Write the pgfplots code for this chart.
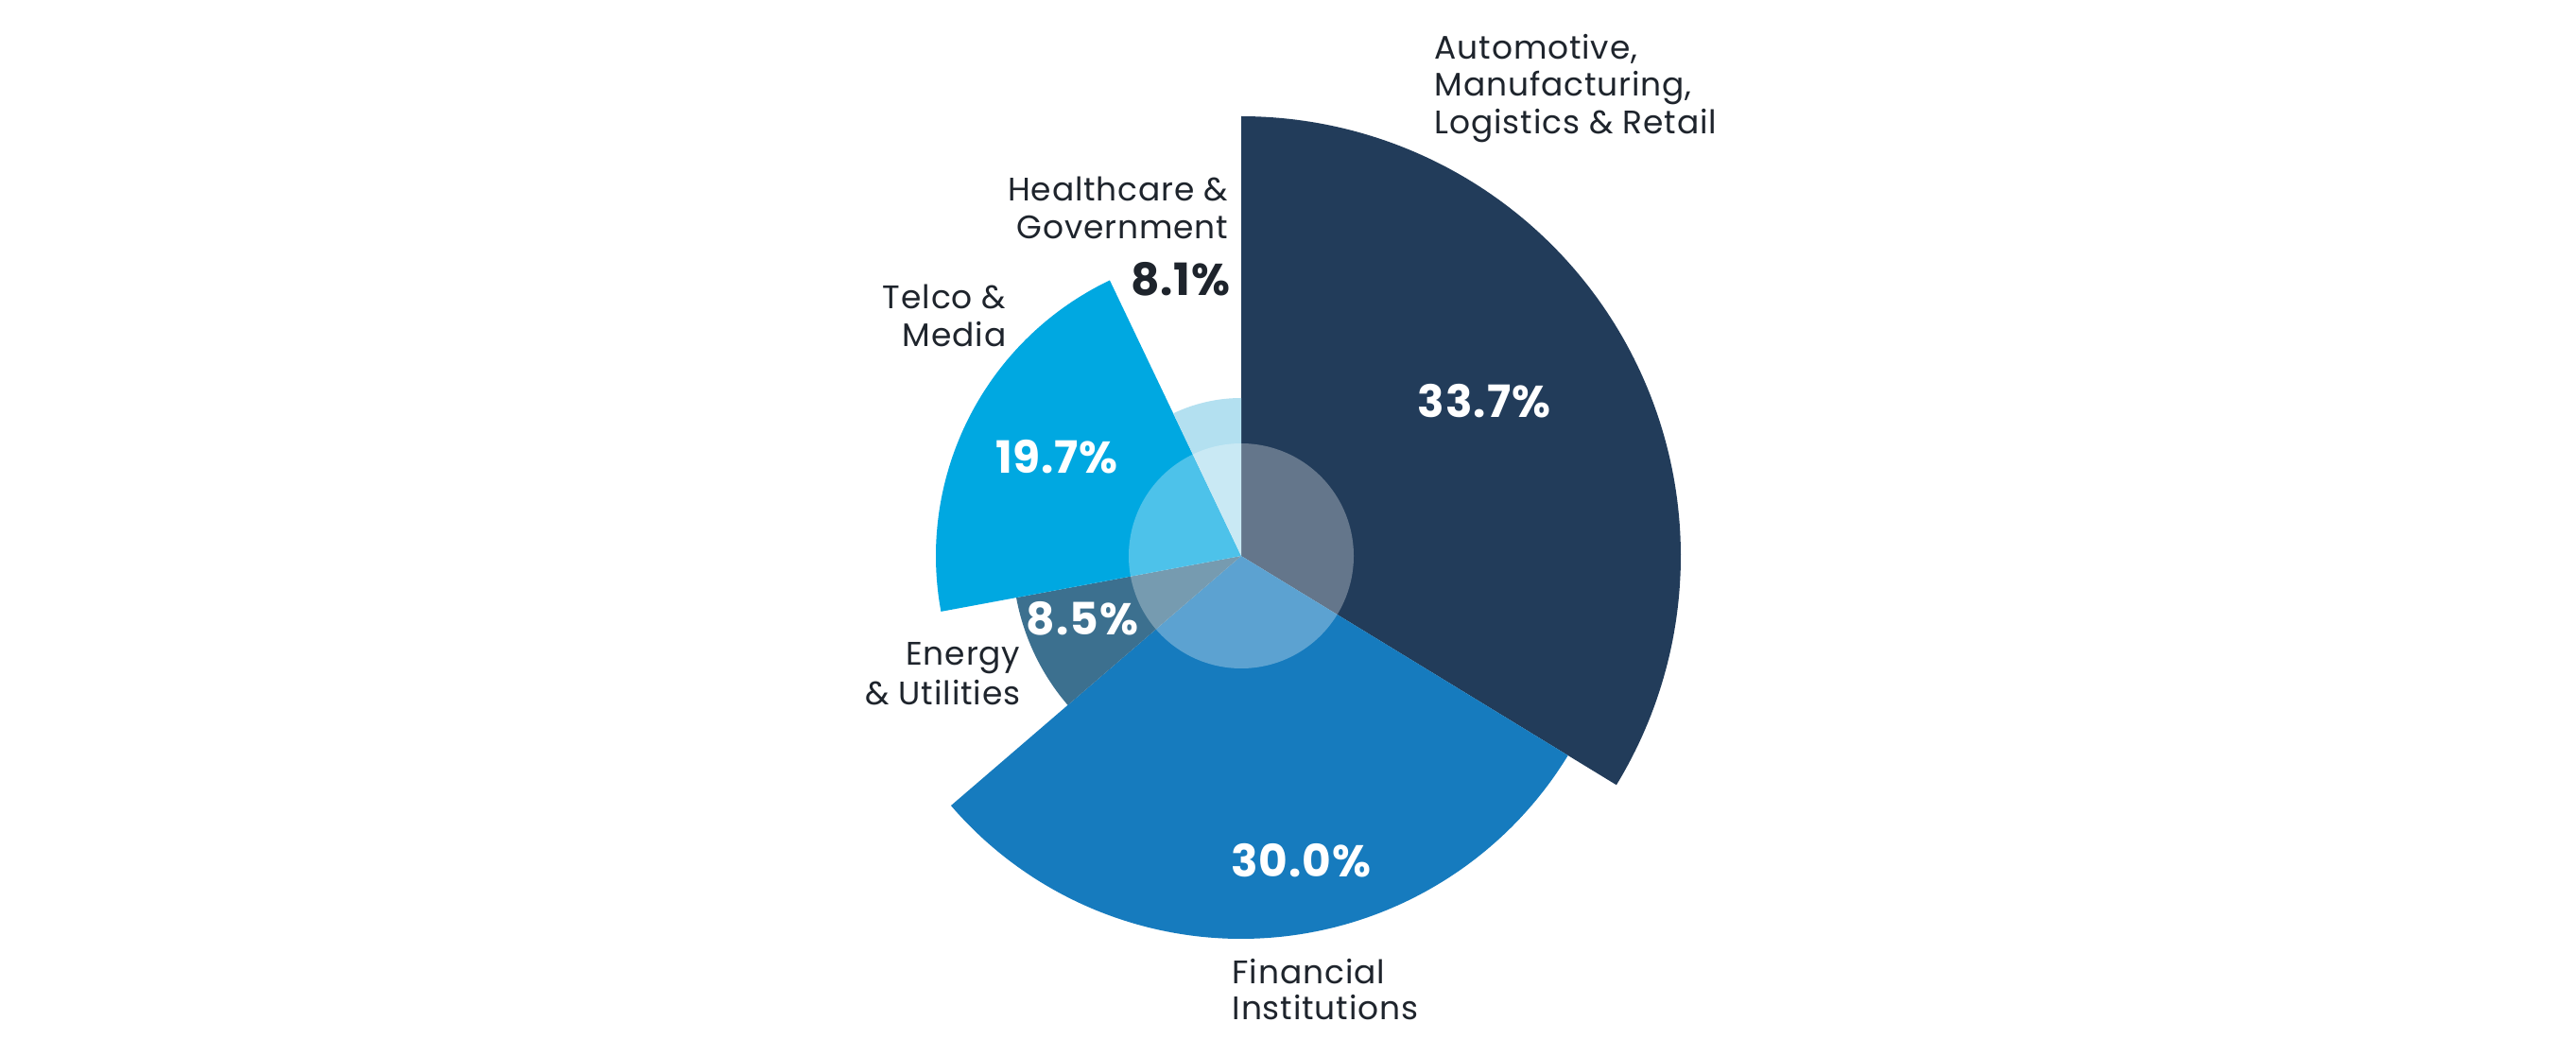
\documentclass[border=0pt]{standalone}
\usepackage{fontspec}
\setmainfont{Poppins}
\usepackage{pgfplots}
\pgfplotsset{compat=1.18}
\usepgfplotslibrary{polar}
\definecolor{cAuto}{HTML}{223C5A}
\definecolor{cFin}{HTML}{167BBE}
\definecolor{cEne}{HTML}{3C708F}
\definecolor{cTel}{HTML}{00A8E1}
\definecolor{cHea}{HTML}{B3E0F0}
\definecolor{cTxt}{HTML}{1E242C}
\newcommand{\lab}{\fontsize{9.8pt}{11pt}\selectfont\addfontfeature{LetterSpace=2.5}}
\newcommand{\pct}{\fontsize{13.4pt}{15pt}\selectfont\bfseries\addfontfeature{LetterSpace=2}}
\begin{document}
\begin{tikzpicture}
\useasboundingbox[fill=white] (0,0) rectangle (272.5mm,-111.8mm);
\begin{polaraxis}[
  at={(131.3mm,-58.8mm)}, anchor=center,
  scale only axis, width=100mm, height=100mm,
  ymin=0, ymax=500, xmin=0, xmax=360,
  hide axis, clip=false
]
% sector: start angle, end angle (deg, clockwise from top = 90), radius
\addplot[fill=cAuto, draw=none, domain=90:-31.4, samples=120] {465} -- (axis cs:0,0) -- cycle;
\addplot[fill=cFin, draw=none, domain=-31.4:-139.3, samples=120] {405} -- (axis cs:0,0) -- cycle;
\addplot[fill=cEne, draw=none, domain=-139.3:-169.5, samples=60] {242} -- (axis cs:0,0) -- cycle;
\addplot[fill=cTel, draw=none, domain=-169.5:-244.5, samples=90] {323} -- (axis cs:0,0) -- cycle;
\addplot[fill=cHea, draw=none, domain=-244.5:-270, samples=40] {167} -- (axis cs:0,0) -- cycle;
\addplot[fill=white, fill opacity=0.3, draw=none, domain=0:360, samples=180] {119} -- cycle;
\end{polaraxis}
\begin{scope}[x=0.1mm,y=-0.1mm]
\node[anchor=base west, text=cTxt, inner sep=0] at (1517,63) {\lab Automotive,};
\node[anchor=base west, text=cTxt, inner sep=0] at (1517,102) {\lab Manufacturing,};
\node[anchor=base west, text=cTxt, inner sep=0] at (1517,142) {\lab Logistics \& Retail};
\node[anchor=base east, text=cTxt, inner sep=0] at (1300,213) {\lab Healthcare \&};
\node[anchor=base east, text=cTxt, inner sep=0] at (1300,253) {\lab Government};
\node[anchor=base east, text=cTxt, inner sep=0] at (1302,313) {\pct 8.1\%};
\node[anchor=base east, text=cTxt, inner sep=0] at (1065,327) {\lab Telco \&};
\node[anchor=base east, text=cTxt, inner sep=0] at (1065,367) {\lab Media};
\node[anchor=base, text=white, inner sep=0] at (1118,500) {\pct 19.7\%};
\node[anchor=base, text=white, inner sep=0] at (1145,671) {\pct 8.5\%};
\node[anchor=base east, text=cTxt, inner sep=0] at (1080,703) {\lab Energy};
\node[anchor=base east, text=cTxt, inner sep=0] at (1080,745) {\lab \& Utilities};
\node[anchor=base, text=white, inner sep=0] at (1570,442) {\pct 33.7\%};
\node[anchor=base, text=white, inner sep=0] at (1376,927) {\pct 30.0\%};
\node[anchor=base west, text=cTxt, inner sep=0] at (1303,1040) {\lab Financial};
\node[anchor=base west, text=cTxt, inner sep=0] at (1303,1078) {\lab Institutions};
\end{scope}
\end{tikzpicture}
\end{document}
